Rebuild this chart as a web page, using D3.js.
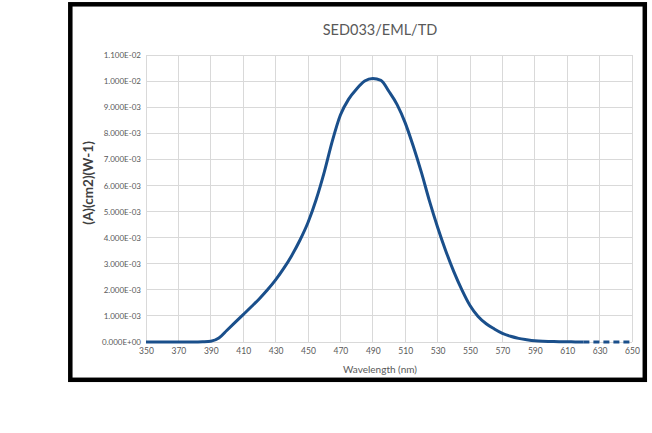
<!DOCTYPE html>
<html>
<head>
<meta charset="utf-8">
<script src="https://cdn.jsdelivr.net/npm/d3@7"></script>
<style>
html,body{margin:0;padding:0;background:#fff;}
svg{display:block;}
</style>
</head>
<body>
<svg id="chart" width="652" height="433"></svg>
<script>
const title = "SED033/EML/TD";
const xLabel = "Wavelength (nm)";
const yLabel = "(A)(cm2)(W-1)";
const xTicks = [350,370,390,410,430,450,470,490,510,530,550,570,590,610,630,650];
const yTicks = [0,0.001,0.002,0.003,0.004,0.005,0.006,0.007,0.008,0.009,0.010,0.011];
const wavelengths = [350,355,360,365,370,375,380,385,390,395,400,405,410,415,420,425,430,435,440,445,450,455,460,465,470,475,480,485,490,495,500,505,510,515,520,525,530,535,540,545,550,555,560,565,570,575,580,585,590,595,600,605,610,615,620,625,630,635,640,645,650];
const values = [0,0,0,0,0,0,0,0.00001,0.00003,0.00015,0.00045,0.00075,0.00105,0.00135,0.00166,0.002,0.00238,0.00282,0.00332,0.0039,0.00458,0.00545,0.0065,0.0077,0.0087,0.0093,0.0097,0.01,0.0101,0.01003,0.0096,0.0091,0.0084,0.0075,0.0065,0.0054,0.0044,0.0035,0.0027,0.002,0.0014,0.00098,0.0007,0.0005,0.00033,0.00022,0.00014,0.00009,0.00005,0.00003,0.00002,0.00001,0.00001,0,0,0,0,0,0,0,0];
const dashStart = 620;

const svg = d3.select("#chart");
const font = "Lato, 'Open Sans', sans-serif";

// outer frame
svg.append("rect").attr("x",70.3).attr("y",4.3).attr("width",574.5).attr("height",375.5)
  .attr("fill","#fff").attr("stroke","#000").attr("stroke-width",4.5);

const x = d3.scaleLinear().domain([350,650]).range([146,632]);
const y = d3.scaleLinear().domain([0,0.011]).range([342,55]);

// grid
svg.append("g").selectAll("line.v").data(xTicks).join("line")
  .attr("x1",d=>x(d)).attr("x2",d=>x(d)).attr("y1",y(0)).attr("y2",y(0.011))
  .attr("stroke","#d9d9d9").attr("stroke-width",1).attr("shape-rendering","crispEdges");
svg.append("g").selectAll("line.h").data(yTicks).join("line")
  .attr("x1",x(350)).attr("x2",x(650)).attr("y1",d=>y(d)).attr("y2",d=>y(d))
  .attr("stroke","#d9d9d9").attr("stroke-width",1).attr("shape-rendering","crispEdges");

// axes
const fmt = d => {
  const s = d3.format(".3e")(d);
  const m = s.match(/^(-?[\d.]+)e([+-])(\d+)$/);
  return m[1] + "E" + m[2] + m[3].padStart(2,"0");
};
const yAxis = svg.append("g").attr("transform",`translate(${x(350)},0)`)
  .call(d3.axisLeft(y).tickValues(yTicks).tickFormat(fmt).tickSize(0).tickPadding(5));
yAxis.select(".domain").remove();
yAxis.selectAll("text").attr("font-family",font).attr("font-size","8px").attr("fill","#595959");

const xAxis = svg.append("g").attr("transform",`translate(0,${y(0)})`)
  .call(d3.axisBottom(x).tickValues(xTicks).tickFormat(d3.format("d")).tickSize(0).tickPadding(6));
xAxis.select(".domain").remove();
xAxis.selectAll("text").attr("font-family",font).attr("font-size","8.5px").attr("fill","#595959");

// data
const data = wavelengths.map((w,i)=>({w, v: values[i]}));
const line = d3.line().x(d=>x(d.w)).y(d=>y(d.v)).curve(d3.curveMonotoneX);
svg.append("path").datum(data.filter(d=>d.w<=dashStart)).attr("d",line)
  .attr("fill","none").attr("stroke","#1a4f8b").attr("stroke-width",3).attr("stroke-linejoin","round");
svg.append("path").datum(data.filter(d=>d.w>=dashStart)).attr("d",line)
  .attr("fill","none").attr("stroke","#1a4f8b").attr("stroke-width",3).attr("stroke-dasharray","6,4");

// titles
svg.append("text").attr("x",380).attr("y",35).attr("text-anchor","middle")
  .attr("font-family",font).attr("font-size","14.5px").attr("fill","#595959").text(title);
svg.append("text").attr("x",380).attr("y",373).attr("text-anchor","middle")
  .attr("font-family",font).attr("font-size","10px").attr("fill","#595959").text(xLabel);
svg.append("text").attr("transform","translate(93,183) rotate(-90)").attr("text-anchor","middle")
  .attr("font-family",font).attr("font-size","13.5px").attr("font-weight","bold").attr("fill","#404040").text(yLabel);
</script>
</body>
</html>
